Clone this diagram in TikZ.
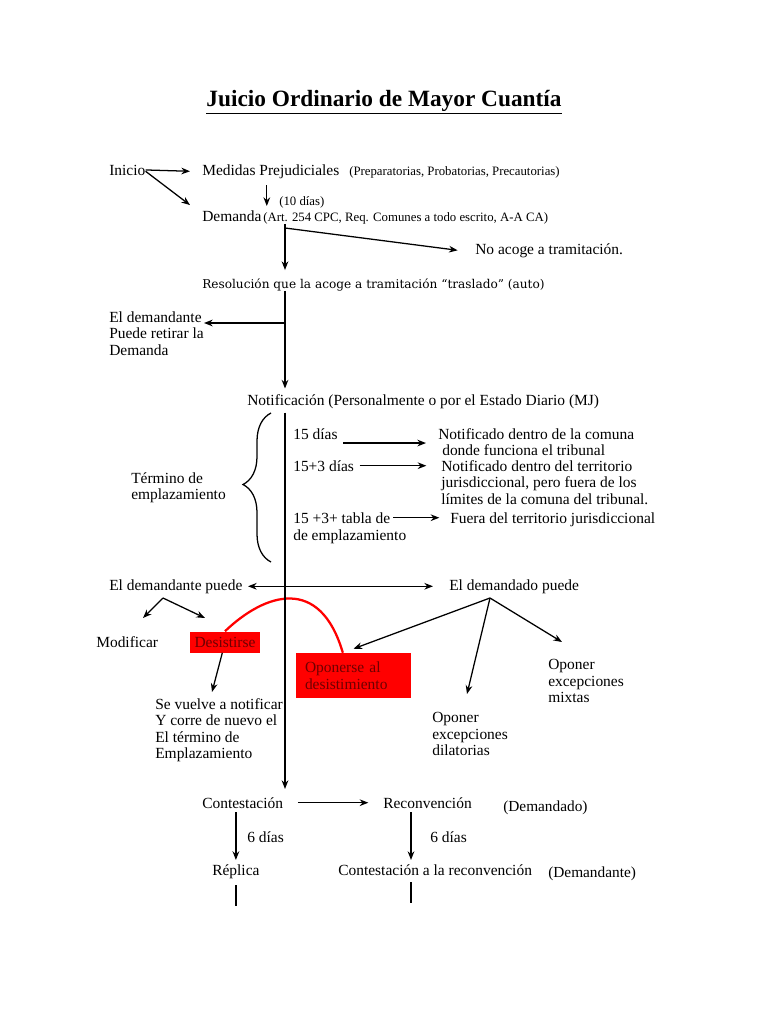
\documentclass[tikz,border=0pt]{standalone}
\usepackage{fontspec}
\setmainfont{Liberation Serif}
\newfontfamily\resfont{DejaVu Serif}
\usetikzlibrary{arrows.meta,decorations.pathreplacing}

\begin{document}
\begin{tikzpicture}[x=0.75pt,y=-0.75pt,
    txt/.style={inner sep=0pt, font=\fontsize{11.6}{12.4}\selectfont, align=left},
    small/.style={inner sep=0pt, font=\fontsize{9.6}{11}\selectfont},
    redbox/.style={fill=red, text={rgb,255:red,110;green,0;blue,0}, inner sep=0pt,
                   font=\fontsize{11.6}{12.4}\selectfont, align=left},
    arr/.style={-{Stealth[length=6.5pt,width=5pt]}, line width=0.95pt},
    dblarr/.style={{Stealth[length=6.5pt,width=5pt]}-{Stealth[length=6.5pt,width=5pt]}, line width=0.95pt},
    plain/.style={line width=0.95pt}]

  \useasboundingbox (0,0) rectangle (768,1024);

  % title
  \node[inner sep=0pt, font=\bfseries\fontsize{17.5}{20}\selectfont, anchor=base]
    (title) at (384,106) {\underline{Juicio Ordinario de Mayor Cuantía}};

  % start
  \node[txt, anchor=base west] (inicio)  at (109,175) {Inicio};
  \node[txt, anchor=base west] (medidas) at (202,175) {Medidas Prejudiciales};
  \node[small, anchor=base west] (medprn) at (349,175) {(Preparatorias, Probatorias, Precautorias)};
  \node[small, anchor=base west] (diez)   at (279,205) {(10 días)};
  \node[txt, anchor=base west] (demanda) at (202,221) {Demanda};
  \node[small, anchor=base west] (demprn) at (263,221) {(Art. 254 CPC, Req. Comunes a todo escrito, A-A CA)};
  \node[txt, anchor=base west] (noacoge) at (475,254) {No acoge a tramitación.};
  \node[inner sep=0pt, font=\resfont\fontsize{9.1}{10}\selectfont, anchor=base west]
    (resol) at (202,288) {Resolución que la acoge a tramitación “traslado” (auto)};
  \node[txt, anchor=north west] (retirar) at (109,311) {El demandante\\Puede retirar la\\Demanda};
  \node[txt, anchor=base west] (notif) at (247,405) {Notificación (Personalmente o por el Estado Diario (MJ)};

  \draw[arr] (inicio.east) -- ([xshift=-9pt]medidas.west);
  \draw[arr] ([yshift=-1pt]inicio.east) -- ([xshift=-9pt,yshift=8pt]demanda.west);
  \draw[arr] ([xshift=3.75pt,yshift=-5pt]medidas.south -| demanda.east)
    -- ([xshift=3.75pt,yshift=3pt]demanda.north east);

  % spine
  \coordinate (j1) at (285,228);
  \coordinate (j2) at (285,323);
  \draw[plain] (j1 |- demprn.south) -- (j1);
  \draw[arr] (j1) -- ([yshift=6pt]resol.north -| j1);
  \draw[arr] (j1) -- ([xshift=-13pt]noacoge.west);
  \draw[arr] (resol.south -| j1) -- ([yshift=4pt]notif.north -| j1);
  \draw[arr] (j2) -- (j2 -| retirar.east);

  % term of emplazamiento
  \node[txt, anchor=north west] (termino) at (131,472) {Término de\\emplazamiento};
  \draw[plain, decorate, decoration={brace, amplitude=21pt, aspect=0.52}]
    (271,562) -- (271,413);

  \node[txt, anchor=base west] (d15)   at (293,439) {15 días};
  \node[txt, anchor=base west] (d153)  at (293,471) {15+3 días};
  \node[txt, anchor=base west] (dtab)  at (293,523) {15 +3+ tabla de};
  \node[txt, anchor=base west] (dtab2) at (293,540) {de emplazamiento};
  \node[txt, anchor=north west] (n1)   at (438,428) {Notificado dentro de la comuna\\\hspace*{3pt}donde funciona el tribunal};
  \node[txt, anchor=north west] (n2)   at (441,460) {Notificado dentro del territorio\\jurisdiccional, pero fuera de los\\límites de la comuna del tribunal.};
  \node[txt, anchor=base west] (n3)    at (450,523) {Fuera del territorio jurisdiccional};

  \draw[arr] ([xshift=4pt,yshift=-7pt]d15.east) -- ([xshift=-9pt,yshift=-7pt]d15.east -| n1.west);
  \draw[arr] ([xshift=4pt]d153.east) -- ([xshift=-11pt]d153.east -| n2.west);
  \draw[arr] ([xshift=2pt]dtab.east) -- ([xshift=-8pt]dtab.east -| n3.west);

  % parties
  \node[txt, anchor=base west] (dmte) at (109,590) {El demandante puede};
  \node[txt, anchor=base west] (dmdo) at (449,590) {El demandado puede};
  \node[txt, anchor=base west] (modif) at (96,647) {Modificar};
  \node[redbox, minimum width=70*0.75pt, minimum height=21*0.75pt] (desist) at (225,642) {Desistirse};
  \node[redbox, minimum width=115*0.75pt, minimum height=45*0.75pt, text width=97*0.75pt]
    (opon) at (353.5,675.5) {Oponerse al\\desistimiento};
  \node[txt, anchor=north west] (vuelve) at (155,698) {Se vuelve a notificar\\Y corre de nuevo el\\El término de\\Emplazamiento};
  \node[txt, anchor=north west] (dilat)  at (432,712) {Oponer\\excepciones\\dilatorias};
  \node[txt, anchor=north west] (mixtas) at (548,659) {Oponer\\excepciones\\mixtas};

  \draw[dblarr] ([xshift=4pt]dmte.east) -- ([xshift=-12pt]dmdo.west);

  \coordinate (a1) at (163,598);
  \coordinate (a1l) at (143,618);
  \coordinate (a1r) at (205,618);
  \draw[arr] (a1) -- (a1l);
  \draw[arr] (a1) -- (a1r);
  \coordinate (v1) at (212,692);
  \draw[arr] ([xshift=-2pt]desist.south) -- (v1);

  \coordinate (a2) at (490,598);
  \coordinate (a2d) at (467,694);
  \coordinate (a2m) at (562,642);
  \draw[arr] (a2) -- ([yshift=3pt]opon.north);
  \draw[arr] (a2) -- (a2d);
  \draw[arr] (a2) -- (a2m);

  \draw[red, line width=1.7pt] (desist.north)
    .. controls (265,593) and (320,575) .. ([xshift=-8pt]opon.north);

  % answer
  \node[txt, anchor=base west] (contest) at (202,808) {Contestación};
  \node[txt, anchor=base west] (recon)   at (383,808) {Reconvención};
  \node[txt, anchor=base west, font=\fontsize{11.5}{12}\selectfont] (ddo) at (503,811) {(Demandado)};
  \node[txt, anchor=base west] (replica) at (212,875) {Réplica};
  \node[txt, anchor=base west] (crecon)  at (338,875) {Contestación a la reconvención};
  \node[txt, anchor=base west, font=\fontsize{11.5}{12}\selectfont] (dte) at (548,877) {(Demandante)};
  \node[txt, anchor=base west] (seis1) at (247,842) {6 días};
  \node[txt, anchor=base west] (seis2) at (430,842) {6 días};

  \draw[arr] ([yshift=-3pt]notif.south -| j1) -- ([yshift=6pt]contest.north -| j1);
  \draw[arr] ([xshift=11pt]contest.east) -- ([xshift=-11pt]recon.west);
  \draw[arr] ([yshift=-3pt]contest.south -| replica.north) -- ([yshift=3pt]replica.north);
  \coordinate (rx) at (411,0);
  \draw[arr] ([yshift=-3pt]recon.south -| rx) -- ([yshift=3pt]crecon.north -| rx);
  \draw[plain] ([yshift=-5pt]replica.south) -- ++(0,21);
  \draw[plain] ([yshift=-5pt]crecon.south -| rx) -- ++(0,21);
\end{tikzpicture}
\end{document}
